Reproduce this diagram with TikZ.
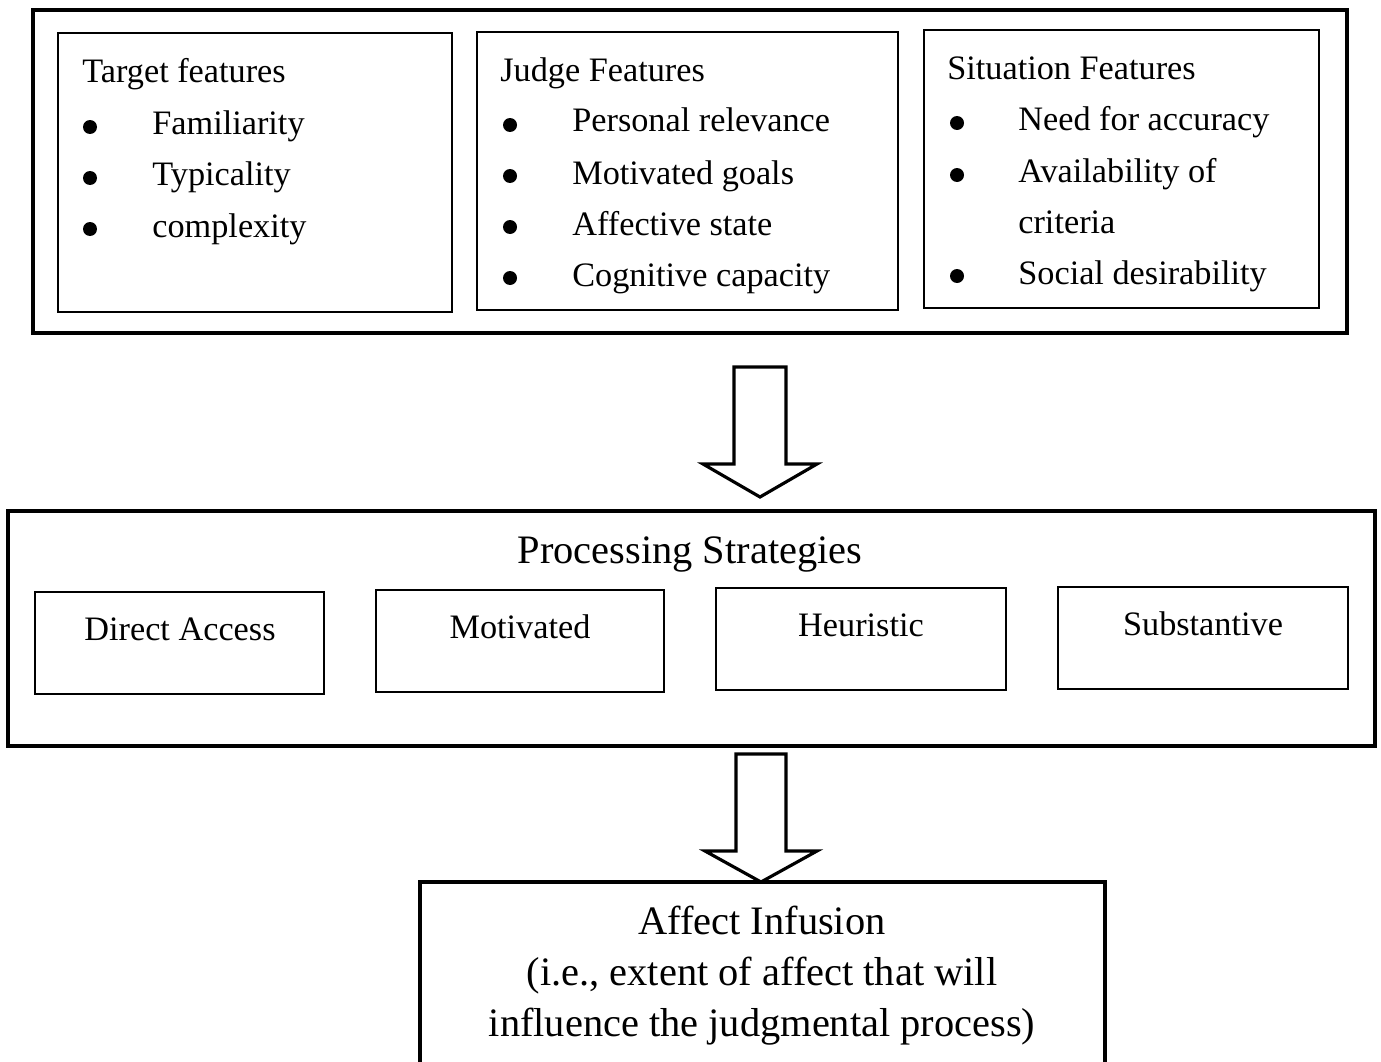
\documentclass[tikz,border=0pt]{standalone}
\usepackage{fontspec}
\setmainfont{Liberation Serif}
\usepackage{tikz}
\usetikzlibrary{
    calc,
    fit,
    positioning
}
\tikzstyle{outerbox}=[
    rectangle,
    draw=black,
    line width=2pt,
    inner sep=0pt
]
\tikzstyle{innerbox}=[
    rectangle,
    draw=black,
    line width=0.9pt,
    inner sep=0pt
]
\tikzstyle{label}=[
    inner sep=0pt,
    anchor=base west,
    font=\fontsize{19.5}{24}\selectfont
]
\tikzstyle{boxtext}=[
    inner sep=0pt,
    anchor=base,
    font=\fontsize{19.5}{24}\selectfont
]
\tikzstyle{dot}=[
    circle,
    fill=black,
    inner sep=0pt,
    minimum size=0.28cm
]
\tikzstyle{heading}=[
    inner sep=0pt,
    anchor=base,
    font=\fontsize{23}{29}\selectfont
]
\tikzstyle{hollowarrow}=[draw=black,line width=1.8pt,fill=white,line join=miter]

\begin{document}
\begin{tikzpicture}[x=0.02cm,y=-0.02cm]
\clip (0,0) rectangle (1381,1061);

% features
\node[outerbox,fit={(33,10) (1347,333)}] (features) {};
\node[innerbox,fit={(58,33) (452,312)}] (target) {};
\node[innerbox,fit={(477,32) (898,310)}] (judge) {};
\node[innerbox,fit={(924,30) (1319,308)}] (situation) {};

\node[label] (targettitle) at (82,83) {Target features};
\node[dot] (tb1) at (90,127) {};
\node[dot] (tb2) at (90,178) {};
\node[dot] (tb3) at (90,229) {};
\node[label] (familiarity) at (152,134) {Familiarity};
\node[label] (typicality) at (152,185) {Typicality};
\node[label] (complexity) at (152,237) {complexity};

\node[label] (judgetitle) at (500,82) {Judge Features};
\node[dot] (jb1) at (510,125) {};
\node[dot] (jb2) at (510,176) {};
\node[dot] (jb3) at (510,227) {};
\node[dot] (jb4) at (510,278) {};
\node[label] (relevance) at (572,132) {Personal relevance};
\node[label] (goals) at (572,184) {Motivated goals};
\node[label] (affective) at (572,235) {Affective state};
\node[label] (capacity) at (572,286) {Cognitive capacity};

\node[label] (situationtitle) at (947,80) {Situation Features};
\node[dot] (sb1) at (957,123) {};
\node[dot] (sb2) at (957,175) {};
\node[dot] (sb3) at (957,276) {};
\node[label] (accuracy) at (1018,130) {Need for accuracy};
\node[label] (availability) at (1018,182) {Availability of};
\node[label] (criteria) at (1018,233) {criteria};
\node[label] (desirability) at (1018,284) {Social desirability};

% strategies
\node[outerbox,fit={(8,511) (1375,746)}] (strategies) {};
\node[heading] (strategiestitle) at (690,563) {Processing Strategies};
\node[innerbox,fit={(35,592) (324,694)}] (direct) {};
\node[innerbox,fit={(376,590) (664,692)}] (motivated) {};
\node[innerbox,fit={(716,588) (1006,690)}] (heuristic) {};
\node[innerbox,fit={(1058,587) (1348,689)}] (substantive) {};
\node[boxtext] (directtext) at (180,640) {Direct Access};
\node[boxtext] (motivatedtext) at (520,638) {Motivated};
\node[boxtext] (heuristictext) at (861,636) {Heuristic};
\node[boxtext] (substantivetext) at (1203,635) {Substantive};

% affect infusion
\node[outerbox,fit={(420,882) (1105,1080)}] (infusion) {};
\node[heading] (infusion1) at (762,934) {Affect Infusion};
\node[heading] (infusion2) at (762,985) {(i.e., extent of affect that will};
\node[heading] (infusion3) at (762,1036) {influence the judgmental process)};

% block arrows
\coordinate (tipA) at (760,497);
\coordinate (tipB) at (761,882);
\draw[hollowarrow] ($(tipA)+(-26,-130)$) -- ($(tipA)+(-26,-33)$) -- ($(tipA)+(-57,-33)$)
    -- (tipA) -- ($(tipA)+(57,-33)$) -- ($(tipA)+(26,-33)$) -- ($(tipA)+(26,-130)$) -- cycle;
\draw[hollowarrow] ($(tipB)+(-25,-128)$) -- ($(tipB)+(-25,-31)$) -- ($(tipB)+(-56,-31)$)
    -- (tipB) -- ($(tipB)+(56,-31)$) -- ($(tipB)+(25,-31)$) -- ($(tipB)+(25,-128)$) -- cycle;
\end{tikzpicture}
\end{document}
